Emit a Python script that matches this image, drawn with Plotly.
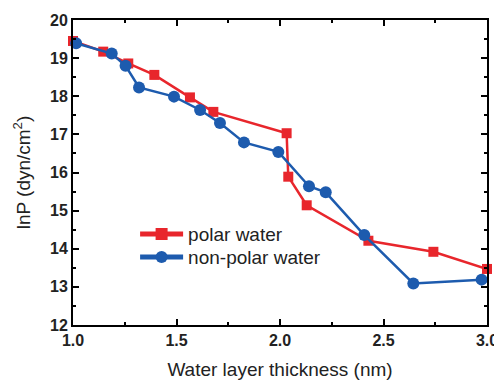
import plotly.graph_objects as go

polar_x = [1.0, 1.146, 1.267, 1.393, 1.565, 1.678, 2.032, 2.040, 2.129, 2.427, 2.741, 3.0]
polar_y = [19.45, 19.17, 18.86, 18.56, 17.97, 17.59, 17.03, 15.89, 15.14, 14.21, 13.92, 13.47]

nonpolar_x = [1.015, 1.187, 1.254, 1.319, 1.488, 1.614, 1.710, 1.826, 1.992, 2.140, 2.221, 2.407, 2.644, 2.974]
nonpolar_y = [19.39, 19.12, 18.80, 18.23, 17.99, 17.64, 17.30, 16.79, 16.54, 15.64, 15.48, 14.36, 13.09, 13.19]

x_ticks = [1.0, 1.5, 2.0, 2.5, 3.0]
y_ticks = [12, 13, 14, 15, 16, 17, 18, 19, 20]

RED = "#E8262C"
BLUE = "#1D5BAE"
FONT = "Liberation Sans, Arial"

fig = go.Figure()
fig.add_trace(go.Scatter(
    x=polar_x, y=polar_y, mode="lines+markers", name="polar water",
    line=dict(color=RED, width=2.5),
    marker=dict(symbol="square", size=10, color=RED),
    cliponaxis=False, legend="legend",
))
fig.add_trace(go.Scatter(
    x=nonpolar_x, y=nonpolar_y, mode="lines+markers", name="non-polar water",
    line=dict(color=BLUE, width=2.5),
    marker=dict(symbol="circle", size=12, color=BLUE),
    cliponaxis=False, legend="legend2",
))

axis_common = dict(
    showline=True, linecolor="black", linewidth=2, mirror="ticks",
    ticks="inside", ticklen=6, tickwidth=1.5, tickcolor="black",
    showgrid=False, zeroline=False, automargin=False,
    tickfont=dict(family=FONT, size=16, color="#222"),
    minor=dict(ticks="inside", ticklen=3, tickwidth=1.5, tickcolor="black", showgrid=False),
)

fig.update_xaxes(
    range=[1.0, 3.0], tickvals=x_ticks, ticktext=[f"<b>{v:.1f}</b>" for v in x_ticks],
    minor_dtick=0.25,
    title=dict(text="Water layer thickness (nm)", standoff=14,
               font=dict(family=FONT, size=19, color="#222")),
    **axis_common,
)
fig.update_yaxes(
    range=[12, 20], tickvals=y_ticks, ticktext=[f"<b>{v}</b>" for v in y_ticks],
    minor_dtick=0.5,
    title=dict(text="lnP (dyn/cm<sup>2</sup>)", standoff=14,
               font=dict(family=FONT, size=19, color="#222")),
    **axis_common,
)

legend_common = dict(
    x=0.15, xanchor="left", yanchor="top",
    bgcolor="rgba(0,0,0,0)",
    font=dict(family=FONT, size=19, color="#222"),
    itemsizing="constant", itemwidth=43,
)

# page body has an 8px margin, so the figure is offset by (8, 8)
fig.update_layout(
    width=494, height=375,
    margin=dict(l=65, r=15, t=12, b=58),
    paper_bgcolor="white", plot_bgcolor="white",
    showlegend=True,
    legend=dict(y=0.36, **legend_common),
    legend2=dict(y=0.285, **legend_common),
)

fig.write_html("out.html")
